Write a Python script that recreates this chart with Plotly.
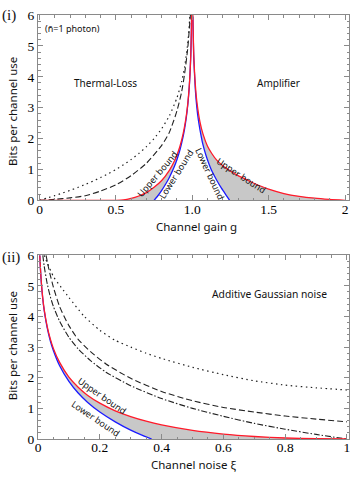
import plotly.graph_objects as go

# ---- panel (i): thermal-loss (g<1) and amplifier (g>1), n=1 photon ----
g_loss_up = [0, 0.5, 0.55, 0.6, 0.65, 0.7, 0.75, 0.8, 0.85, 0.88, 0.9, 0.92, 0.94, 0.95,
             0.96, 0.97, 0.975, 0.98, 0.985, 0.99, 0.993, 0.996, 0.9965]
loss_upper = [0, 0, 0.01, 0.06, 0.14, 0.25, 0.42, 0.64, 0.97, 1.24, 1.47, 1.76, 2.15, 2.40,
              2.70, 3.10, 3.36, 3.67, 4.08, 4.66, 5.17, 5.97, 6.16]
g_loss_low = [0.75, 0.78, 0.8, 0.83, 0.85, 0.88, 0.9, 0.92, 0.94, 0.95, 0.96, 0.97, 0.975,
              0.98, 0.985, 0.99, 0.993, 0.996, 0.9965]
loss_lower = [0, 0.18, 0.32, 0.56, 0.74, 1.06, 1.32, 1.64, 2.06, 2.32, 2.64, 3.06, 3.32,
              3.64, 4.06, 4.64, 5.16, 5.97, 6.16]
g_loss_dot = [0, 0.05, 0.1, 0.15, 0.2, 0.25, 0.3, 0.35, 0.4, 0.45, 0.5, 0.55, 0.6, 0.65,
              0.7, 0.75, 0.8, 0.85, 0.9, 0.93, 0.95, 0.97, 0.98, 0.985]
loss_dot = [0, 0.074, 0.152, 0.234, 0.322, 0.415, 0.515, 0.621, 0.737, 0.862, 1.0, 1.152,
            1.322, 1.515, 1.737, 2.0, 2.322, 2.737, 3.322, 3.837, 4.322, 5.059, 5.644, 6.059]
g_loss_dash = [0, 0.1, 0.2, 0.3, 0.4, 0.5, 0.6, 0.7, 0.8, 0.85, 0.9, 0.93, 0.95, 0.97,
               0.98, 0.988]
loss_dash = [0, 0.03, 0.08, 0.15, 0.3, 0.5, 0.8, 1.2, 1.78, 2.2, 2.9, 3.5, 4.1, 4.9, 5.5, 6.0]

g_amp_up = [1.004, 1.01, 1.02, 1.03, 1.05, 1.07, 1.1, 1.13, 1.16, 1.2, 1.25, 1.3, 1.35,
            1.4, 1.5, 1.6, 1.7, 1.8, 1.9, 2.0]
amp_upper = [6.0, 4.7, 3.75, 3.2, 2.55, 2.15, 1.75, 1.5, 1.3, 1.12, 0.95, 0.8, 0.68, 0.56,
             0.36, 0.22, 0.13, 0.07, 0.03, 0.0]
g_amp_low = [1.004, 1.01, 1.02, 1.03, 1.04, 1.05, 1.07, 1.09, 1.11, 1.13, 1.16, 1.19, 1.22,
             1.245]
amp_lower = [5.95, 4.6, 3.6, 3.0, 2.6, 2.3, 1.8, 1.45, 1.17, 0.93, 0.65, 0.4, 0.18, 0.0]

# ---- panel (ii): additive Gaussian noise ----
xi_up = [0.0058, 0.0075, 0.01, 0.015, 0.02, 0.03, 0.04, 0.05, 0.07, 0.1, 0.13, 0.16, 0.2,
         0.25, 0.3, 0.35, 0.4, 0.5, 0.6, 0.7, 0.8, 0.9, 1.0]
noise_upper = [6.0, 5.63, 5.22, 4.64, 4.23, 3.66, 3.26, 2.95, 2.50, 2.02, 1.69, 1.43, 1.17,
               0.92, 0.73, 0.58, 0.46, 0.28, 0.16, 0.082, 0.033, 0.008, 0]
xi_low = [0.0057, 0.0075, 0.01, 0.015, 0.02, 0.03, 0.04, 0.05, 0.07, 0.1, 0.13, 0.16, 0.2,
          0.25, 0.3, 0.34, 0.368]
noise_lower = [6.01, 5.62, 5.20, 4.62, 4.20, 3.62, 3.20, 2.88, 2.39, 1.88, 1.50, 1.20, 0.88,
               0.56, 0.29, 0.11, 0.0]
xi_dot = [0.02, 0.03, 0.05, 0.075, 0.1, 0.15, 0.2, 0.25, 0.3, 0.35, 0.4, 0.5, 0.6, 0.7,
          0.8, 0.9, 1.0]
noise_dot = [6.0, 5.75, 5.3, 4.95, 4.62, 4.0, 3.55, 3.22, 3.0, 2.8, 2.63, 2.34, 2.1, 1.9,
             1.76, 1.67, 1.6]
xi_dash = [0.026, 0.035, 0.05, 0.07, 0.1, 0.13, 0.17, 0.22, 0.3, 0.4, 0.5, 0.6, 0.7, 0.8,
           0.9, 1.0]
noise_dash = [6.0, 5.55, 4.95, 4.32, 3.7, 3.25, 2.85, 2.45, 1.98, 1.55, 1.25, 1.03, 0.88,
              0.75, 0.65, 0.56]
xi_dashdot = [0.0156, 0.02, 0.03, 0.04, 0.05, 0.07, 0.1, 0.13, 0.17, 0.22, 0.3, 0.4, 0.5,
              0.6, 0.7, 0.8, 0.9, 1.0]
noise_dashdot = [6.0, 5.64, 5.06, 4.64, 4.32, 3.84, 3.32, 2.94, 2.56, 2.18, 1.74, 1.32, 1.0,
                 0.74, 0.51, 0.32, 0.15, 0.0]

W, H = 358, 479
L, R, T, B = 38, 8, 10, 40
RED, BLUE, GRAY, FRAME = '#ff1a2a', '#1a1aff', '#c8c8c8', '#8a8a8a'
SANS = 'Noto Sans'


def px(x):
    return (x - L) / (W - L - R)


def py(y):
    return (H - B - y) / (H - T - B)


def band(xu, yu, xl, yl, xmin):
    # polygon: upper curve forward, lower curve backward
    keep = [i for i, v in enumerate(xu) if v >= xmin]
    xs = [xu[i] for i in keep] + xl[::-1]
    ys = [yu[i] for i in keep] + yl[::-1]
    return xs, ys


fig = go.Figure()


def add_panel(xa, ya, fills, curves):
    for fx, fy in fills:
        fig.add_trace(go.Scatter(x=fx, y=fy, mode='lines', fill='toself', fillcolor=GRAY,
                                 line=dict(width=0), hoverinfo='skip', showlegend=False,
                                 xaxis=xa, yaxis=ya))
    for cx, cy, color, dash, width in curves:
        fig.add_trace(go.Scatter(x=cx, y=cy, mode='lines', showlegend=False,
                                 line=dict(color=color, dash=dash, width=width,
                                           shape='spline', smoothing=0.6),
                                 xaxis=xa, yaxis=ya))


DOTS = '1.5px,3.5px'
add_panel('x', 'y',
          [band(g_loss_up, loss_upper, g_loss_low, loss_lower, 0.5),
           band(g_amp_up, amp_upper, g_amp_low, amp_lower, 1.0)],
          [(g_loss_dot, loss_dot, '#222', DOTS, 1.2),
           (g_loss_dash, loss_dash, '#222', '6px,3px', 1.1),
           (g_loss_low, loss_lower, BLUE, 'solid', 1.3),
           (g_amp_low, amp_lower, BLUE, 'solid', 1.3),
           (g_loss_up, loss_upper, RED, 'solid', 1.3),
           (g_amp_up, amp_upper, RED, 'solid', 1.3)])

add_panel('x2', 'y2',
          [band(xi_up, noise_upper, xi_low, noise_lower, 0.0)],
          [(xi_dot, noise_dot, '#222', DOTS, 1.2),
           (xi_dash, noise_dash, '#222', '6px,3px', 1.1),
           (xi_dashdot, noise_dashdot, '#222', '6px,2px,1.5px,2px', 1.1),
           (xi_low, noise_lower, BLUE, 'solid', 1.3),
           (xi_up, noise_upper, RED, 'solid', 1.3)])


def frame_axis(**kw):
    base = dict(showline=True, mirror='allticks', linecolor=FRAME, linewidth=1,
                ticks='inside', ticklen=5, tickcolor=FRAME, showgrid=False, zeroline=False,
                tickfont=dict(family='Liberation Serif', size=13.5, color='black'),
                minor=dict(ticks='inside', ticklen=2.5, tickcolor=FRAME))
    base.update(kw)
    return base


top_dom = [py(197.5), 1.0]
bot_dom = [0.0, py(253)]

fig.update_layout(
    width=W, height=H, margin=dict(l=L, r=R, t=T, b=B),
    plot_bgcolor='white', paper_bgcolor='white',
    xaxis=frame_axis(domain=[0, 1], anchor='y', range=[-0.0098, 2.026], ticklabelstandoff=-4,
                     tickvals=[0, 0.5, 1, 1.5, 2], ticktext=['0', '0.5', '1.0', '1.5', '2'],
                     minor=dict(ticks='inside', ticklen=2.5, tickcolor=FRAME, tick0=0, dtick=0.1)),
    yaxis=frame_axis(domain=top_dom, anchor='x', range=[0, 6], tickvals=[0, 1, 2, 3, 4, 5, 6],
                     minor=dict(ticks='inside', ticklen=2.5, tickcolor=FRAME, tick0=0, dtick=0.2)),
    xaxis2=frame_axis(domain=[0, 1], anchor='y2', range=[0, 1.0065], ticklabelstandoff=-4,
                      tickvals=[0, 0.2, 0.4, 0.6, 0.8, 1], ticktext=['0', '0.2', '0.4', '0.6', '0.8', '1'],
                      minor=dict(ticks='inside', ticklen=2.5, tickcolor=FRAME, tick0=0, dtick=0.05)),
    yaxis2=frame_axis(domain=bot_dom, anchor='x2', range=[0, 6], tickvals=[0, 1, 2, 3, 4, 5, 6],
                      minor=dict(ticks='inside', ticklen=2.5, tickcolor=FRAME, tick0=0, dtick=0.2)),
)

labels = [
    # text, x px, y px, size, angle, family
    ('(i)', 9, 10, 15, 0, 'Liberation Serif'),
    ('(ii)', 11, 255, 15, 0, 'Liberation Serif'),
    ('(n̄=1 photon)', 73, 24, 9, 0, SANS),
    ('Thermal-Loss', 106, 78.5, 10, 0, SANS),
    ('Amplifier', 279, 79, 10, 0, SANS),
    ('Additive Gaussian noise', 270, 292.5, 10.3, 0, SANS),
    ('Channel gain g', 197, 224, 11.5, 0, SANS),
    ('Channel noise ξ', 194, 465, 11.5, 0, SANS),
    ('Bits per channel use', 13, 108, 11.5, -90, SANS),
    ('Bits per channel use', 12, 345, 11.5, -90, SANS),
    ('Upper bound', 157, 171, 9, -50, SANS),
    ('Lower bound', 176, 171, 9, -58, SANS),
    ('Lower bound', 211, 171, 9, 65, SANS),
    ('Upper bound', 242, 172.5, 9, 33, SANS),
    ('Upper bound', 102, 395, 9, 35, SANS),
    ('Lower bound', 96, 418, 9, 34, SANS),
]
for text, x, y, size, angle, fam in labels:
    fig.add_annotation(text=text, x=px(x), y=py(y), xref='paper', yref='paper',
                       showarrow=False, textangle=angle, xanchor='center', yanchor='middle',
                       font=dict(family=fam, size=size, color='#111'))

# the page's default 8px body margin would push the figure off the window
fig.write_html("out.html", config={'displayModeBar': False},
               post_script="document.body.style.margin='0px';")
